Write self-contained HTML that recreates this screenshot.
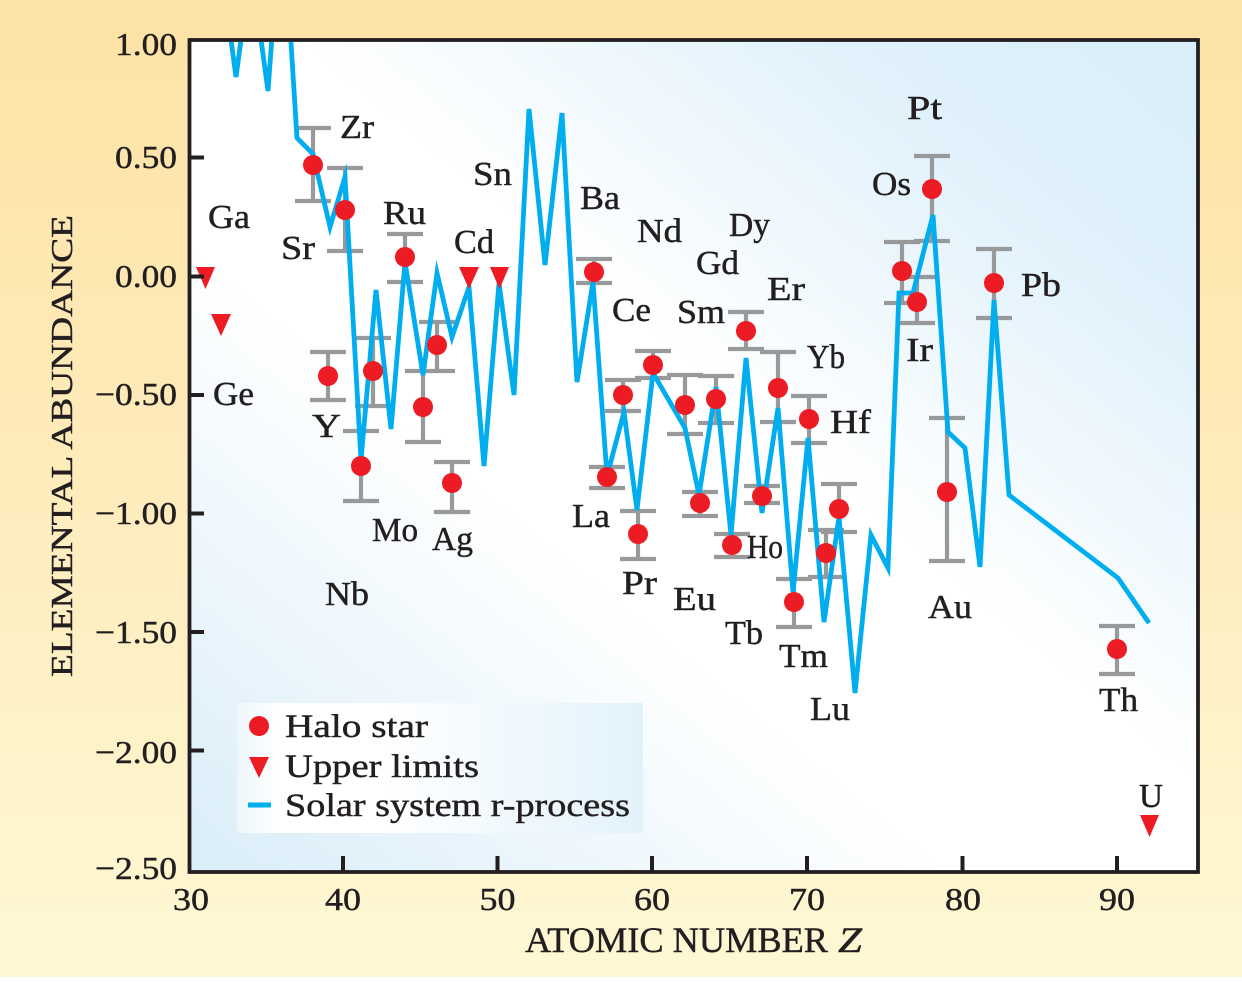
<!DOCTYPE html>
<html>
<head>
<meta charset="utf-8">
<style>
html,body{margin:0;padding:0;}
body{width:1242px;height:977px;overflow:hidden;}
svg text{font-family:"Liberation Serif","DejaVu Serif",serif;fill:#231f20;stroke:#231f20;stroke-width:0.45px;}
</style>
</head>
<body>
<svg width="1242" height="977" viewBox="0 0 1242 977" xmlns="http://www.w3.org/2000/svg">
<defs>
<linearGradient id="outer" x1="0" y1="0" x2="0" y2="1">
<stop offset="0" stop-color="#fde2a5"/>
<stop offset="0.5" stop-color="#feecbc"/>
<stop offset="1" stop-color="#fff8d5"/>
</linearGradient>
<linearGradient id="plotbg" x1="0" y1="1" x2="1" y2="0">
<stop offset="0" stop-color="#d9edf9"/>
<stop offset="0.38" stop-color="#ffffff"/>
<stop offset="0.55" stop-color="#ffffff"/>
<stop offset="0.82" stop-color="#e0f1fb"/>
<stop offset="1" stop-color="#d9eefa"/>
</linearGradient>
<linearGradient id="legbg" x1="0" y1="0" x2="1" y2="0">
<stop offset="0" stop-color="#eef7fc"/>
<stop offset="0.1" stop-color="#ffffff"/>
<stop offset="0.35" stop-color="#ffffff"/>
<stop offset="1" stop-color="#e2f2fb"/>
</linearGradient>
<clipPath id="clip"><rect x="190" y="42" width="1006" height="828"/></clipPath>
</defs>

<rect x="0" y="0" width="1242" height="977" fill="url(#outer)"/>
<rect x="189.5" y="40" width="1008.5" height="832" fill="url(#plotbg)"/>

<!-- legend box -->
<rect x="237" y="703" width="406" height="130" fill="url(#legbg)"/>

<g clip-path="url(#clip)">
<!-- error bars -->
<path fill="none" stroke="#98999b" stroke-width="4.2" d="
M313 128V201M295 128H331M295 201H331
M328 352V400M310 352H346M310 400H346
M345 168V251M327 168H363M327 251H363
M361 431V501M343 431H379M343 501H379
M373 338V406M355 338H391M355 406H391
M405 234V282M387 234H423M387 282H423
M423 371V442M405 371H441M405 442H441
M437 322V371M419 322H455M419 371H455
M452 462V512M434 462H470M434 512H470
M594 259V283M576 259H612M576 283H612
M607 467V488M589 467H625M589 488H625
M623 380V411M605 380H641M605 411H641
M638 511V559M620 511H656M620 559H656
M653 351V378M635 351H671M635 378H671
M685 375V434M667 375H703M667 434H703
M700 492V516M682 492H718M682 516H718
M716 376V423M698 376H734M698 423H734
M732 534V557M714 534H750M714 557H750
M746 312V349M728 312H764M728 349H764
M762 486V503M744 486H780M744 503H780
M778 352V422M760 352H796M760 422H796
M794 579V627M776 579H812M776 627H812
M809 396V443M791 396H827M791 443H827
M826 530V577M808 530H844M808 577H844
M839 484V532M821 484H857M821 532H857
M902 242V303M884 242H920M884 303H920
M917 277V323M899 277H935M899 323H935
M932 156V241M914 156H950M914 241H950
M947 418V561M929 418H965M929 561H965
M994 249V318M976 249H1012M976 318H1012
M1117 626V674M1099 626H1135M1099 674H1135"/>

<!-- solar system r-process line -->
<polyline fill="none" stroke="#00aeef" stroke-width="4.8" stroke-linejoin="miter" stroke-miterlimit="6" points="
219,-49 236,77 251,-34 268,91 282,-100 297,138 313,154 330,227 345,177 361,460 376,290 391,429 405,262 423,375 437,273 452,337 469,287 484,466 499,283 514,395 529,109 545,265 562,113 577,382 593,282 607,476 624,412 637,510 653,373 685,428 699,495 716,387 731,535 746,358 762,513 778,408 793,592 808,438 824,622 839,517 855,693 871,535 888,568 899,293 913,293 933,215 948,432 965,448 980,567 994,300 1009,495 1118,578 1149,623"/>

<!-- halo star points -->
<g fill="#ed1c24">
<circle cx="313" cy="165" r="10"/>
<circle cx="328" cy="376" r="10"/>
<circle cx="345" cy="210" r="10"/>
<circle cx="361" cy="466" r="10"/>
<circle cx="373" cy="371" r="10"/>
<circle cx="405" cy="257" r="10"/>
<circle cx="423" cy="407" r="10"/>
<circle cx="437" cy="345" r="10"/>
<circle cx="452" cy="483" r="10"/>
<circle cx="594" cy="272" r="10"/>
<circle cx="607" cy="477" r="10"/>
<circle cx="623" cy="395" r="10"/>
<circle cx="638" cy="534" r="10"/>
<circle cx="653" cy="365" r="10"/>
<circle cx="685" cy="405" r="10"/>
<circle cx="700" cy="503" r="10"/>
<circle cx="716" cy="399" r="10"/>
<circle cx="732" cy="545" r="10"/>
<circle cx="746" cy="331" r="10"/>
<circle cx="762" cy="496" r="10"/>
<circle cx="778" cy="388" r="10"/>
<circle cx="794" cy="602" r="10"/>
<circle cx="809" cy="419" r="10"/>
<circle cx="826" cy="553" r="10"/>
<circle cx="839" cy="509" r="10"/>
<circle cx="902" cy="271" r="10"/>
<circle cx="917" cy="302" r="10"/>
<circle cx="932" cy="189" r="10"/>
<circle cx="947" cy="492" r="10"/>
<circle cx="994" cy="283" r="10"/>
<circle cx="1117" cy="649" r="10"/>
<!-- upper limits -->
<polygon points="196,267 215,267 205.5,289"/>
<polygon points="211,314 231,314 221,336"/>
<polygon points="459,267 479,267 469,289"/>
<polygon points="490,267 509,267 499.5,289"/>
<polygon points="1140,815 1159,815 1149.5,837"/>
</g>
</g>

<!-- legend contents -->
<circle cx="259" cy="726" r="10" fill="#ed1c24"/>
<polygon points="249,757 269,757 259,778" fill="#ed1c24"/>
<line x1="248" y1="805" x2="271" y2="805" stroke="#00aeef" stroke-width="5"/>
<text x="285" y="737" font-size="33" textLength="143" lengthAdjust="spacingAndGlyphs">Halo star</text>
<text x="285" y="777" font-size="33" textLength="194" lengthAdjust="spacingAndGlyphs">Upper limits</text>
<text x="285" y="816" font-size="33" textLength="345" lengthAdjust="spacingAndGlyphs">Solar system r-process</text>

<!-- element labels -->
<g font-size="34">
<text x="340" y="138" textLength="34" lengthAdjust="spacingAndGlyphs">Zr</text>
<text x="281" y="259" textLength="34" lengthAdjust="spacingAndGlyphs">Sr</text>
<text x="208" y="228" textLength="42" lengthAdjust="spacingAndGlyphs">Ga</text>
<text x="383" y="224" textLength="43" lengthAdjust="spacingAndGlyphs">Ru</text>
<text x="454" y="253" textLength="40" lengthAdjust="spacingAndGlyphs">Cd</text>
<text x="473" y="185" textLength="39" lengthAdjust="spacingAndGlyphs">Sn</text>
<text x="580" y="209" textLength="40" lengthAdjust="spacingAndGlyphs">Ba</text>
<text x="637" y="242" textLength="45" lengthAdjust="spacingAndGlyphs">Nd</text>
<text x="729" y="236" textLength="41" lengthAdjust="spacingAndGlyphs">Dy</text>
<text x="696" y="274" textLength="43" lengthAdjust="spacingAndGlyphs">Gd</text>
<text x="767" y="300" textLength="38" lengthAdjust="spacingAndGlyphs">Er</text>
<text x="612" y="321" textLength="39" lengthAdjust="spacingAndGlyphs">Ce</text>
<text x="677" y="323" textLength="48" lengthAdjust="spacingAndGlyphs">Sm</text>
<text x="807" y="368" textLength="38" lengthAdjust="spacingAndGlyphs">Yb</text>
<text x="830" y="433" textLength="41" lengthAdjust="spacingAndGlyphs">Hf</text>
<text x="906" y="361" textLength="27" lengthAdjust="spacingAndGlyphs">Ir</text>
<text x="928" y="618" textLength="44" lengthAdjust="spacingAndGlyphs">Au</text>
<text x="1099" y="711" textLength="39" lengthAdjust="spacingAndGlyphs">Th</text>
<text x="810" y="720" textLength="40" lengthAdjust="spacingAndGlyphs">Lu</text>
<text x="907" y="119" textLength="35" lengthAdjust="spacingAndGlyphs">Pt</text>
<text x="872" y="195" textLength="39" lengthAdjust="spacingAndGlyphs">Os</text>
<text x="1021" y="296" textLength="40" lengthAdjust="spacingAndGlyphs">Pb</text>
<text x="1139" y="807" textLength="24" lengthAdjust="spacingAndGlyphs">U</text>
<text x="312" y="437" textLength="29" lengthAdjust="spacingAndGlyphs">Y</text>
<text x="213" y="405" textLength="41" lengthAdjust="spacingAndGlyphs">Ge</text>
<text x="372" y="541" textLength="46" lengthAdjust="spacingAndGlyphs">Mo</text>
<text x="432" y="550" textLength="41" lengthAdjust="spacingAndGlyphs">Ag</text>
<text x="325" y="605" textLength="44" lengthAdjust="spacingAndGlyphs">Nb</text>
<text x="572" y="527" textLength="38" lengthAdjust="spacingAndGlyphs">La</text>
<text x="622" y="594" textLength="35" lengthAdjust="spacingAndGlyphs">Pr</text>
<text x="673" y="610" textLength="43" lengthAdjust="spacingAndGlyphs">Eu</text>
<text x="747" y="558" textLength="36" lengthAdjust="spacingAndGlyphs">Ho</text>
<text x="725" y="644" textLength="38" lengthAdjust="spacingAndGlyphs">Tb</text>
<text x="779" y="667" textLength="49" lengthAdjust="spacingAndGlyphs">Tm</text>
</g>

<!-- frame and ticks -->
<rect x="189.5" y="40" width="1008.5" height="832" fill="none" stroke="#231f20" stroke-width="3.8"/>
<path fill="none" stroke="#231f20" stroke-width="4" d="
M190 157.5H204M190 276.5H204M190 395H204M190 513.5H204M190 632H204M190 750.5H204
M343 871V856M497.5 871V856M652 871V856M807 871V856M962.5 871V856M1117 871V856"/>

<!-- y tick labels -->
<g font-size="32" text-anchor="end">
<text x="177" y="55" textLength="62" lengthAdjust="spacingAndGlyphs">1.00</text>
<text x="177" y="168" textLength="62" lengthAdjust="spacingAndGlyphs">0.50</text>
<text x="177" y="287" textLength="62" lengthAdjust="spacingAndGlyphs">0.00</text>
<text x="177" y="405" textLength="82" lengthAdjust="spacingAndGlyphs">−0.50</text>
<text x="177" y="524" textLength="82" lengthAdjust="spacingAndGlyphs">−1.00</text>
<text x="177" y="643" textLength="82" lengthAdjust="spacingAndGlyphs">−1.50</text>
<text x="177" y="763" textLength="82" lengthAdjust="spacingAndGlyphs">−2.00</text>
<text x="177" y="879" textLength="82" lengthAdjust="spacingAndGlyphs">−2.50</text>
</g>

<!-- x tick labels -->
<g font-size="32">
<text x="173" y="910" textLength="36" lengthAdjust="spacingAndGlyphs">30</text>
<text x="325" y="910" textLength="36" lengthAdjust="spacingAndGlyphs">40</text>
<text x="479.5" y="910" textLength="36" lengthAdjust="spacingAndGlyphs">50</text>
<text x="634" y="910" textLength="36" lengthAdjust="spacingAndGlyphs">60</text>
<text x="789" y="910" textLength="36" lengthAdjust="spacingAndGlyphs">70</text>
<text x="945" y="910" textLength="36" lengthAdjust="spacingAndGlyphs">80</text>
<text x="1099" y="910" textLength="36" lengthAdjust="spacingAndGlyphs">90</text>
</g>

<!-- axis titles -->
<text x="525" y="952" font-size="36" textLength="303" lengthAdjust="spacingAndGlyphs">ATOMIC NUMBER</text>
<text x="838" y="952" font-size="36" font-style="italic" textLength="24" lengthAdjust="spacingAndGlyphs">Z</text>
<text transform="translate(72,677) rotate(-90)" x="0" y="0" font-size="31" textLength="462" lengthAdjust="spacingAndGlyphs">ELEMENTAL ABUNDANCE</text>
</svg>
</body>
</html>
